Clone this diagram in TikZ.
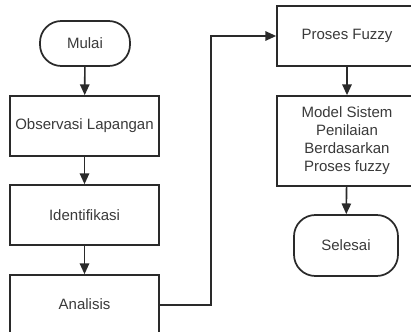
\documentclass[tikz,border=0pt]{standalone}
\usepackage{fontspec}
\setmainfont{Liberation Sans}
\usetikzlibrary{arrows.meta}
\definecolor{linec}{HTML}{2A2A2A}
\definecolor{textc}{HTML}{3A3A3A}
\tikzset{
  base/.style={draw=linec, line width=1.3pt, fill=white, text=textc, align=center, inner sep=2pt,
    font=\fontsize{11.25}{13.5}\selectfont},
  procbox/.style={base, rectangle},
  termbox/.style={base, rectangle, rounded corners=16pt},
  conn/.style={draw=linec, line width=1.2pt, -{Triangle[length=8pt,width=7pt]}},
}
\begin{document}
\begin{tikzpicture}[x=0.75pt,y=-0.75pt]
\clip (0,0) rectangle (411,332);
\fill[white] (0,0) rectangle (411,332);
% left column
\node[termbox, minimum width=67.5pt, minimum height=33.75pt] (mulai) at (85,43.5) {Mulai};
\node[procbox, minimum width=111.75pt, minimum height=45pt] (obs) at (84.5,126) {Observasi Lapangan};
\node[procbox, minimum width=111.75pt, minimum height=45pt] (ident) at (84.5,215) {Identifikasi};
\node[procbox, minimum width=111.75pt, minimum height=45pt] (anal) at (84.5,305) {\raisebox{2pt}{Analisis}};
% right column
\node[procbox, minimum width=105pt, minimum height=45pt] (fuzzy) at (347,36) {Proses Fuzzy};
\node[procbox, minimum width=105pt, minimum height=67.5pt] (model) at (347,141) {Model Sistem\\Penilaian\\Berdasarkan\\Proses fuzzy};
\node[termbox, minimum width=78pt, minimum height=45.75pt] (selesai) at (346,245.5) {Selesai};
\coordinate (bend) at (211,305);
% connectors
\draw[conn] (mulai) -- (obs);
\draw[conn] (obs) -- (ident);
\draw[conn] (ident) -- (anal);
\draw[conn] (anal.east) -- (bend) |- (fuzzy.west);
\draw[conn] (fuzzy) -- (model);
\draw[conn] (model) -- (selesai);
\end{tikzpicture}
\end{document}
